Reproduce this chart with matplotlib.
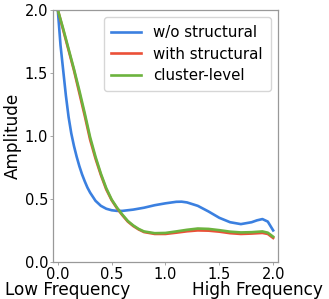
import matplotlib
matplotlib.use("Agg")
import matplotlib.pyplot as plt

# frequency axis samples
x_blue = [0.0, 0.025, 0.05, 0.075, 0.1, 0.125, 0.15, 0.175, 0.2, 0.225, 0.25, 0.275, 0.3, 0.35, 0.4, 0.45,
          0.5, 0.55, 0.6, 0.7, 0.8, 0.9, 1.0, 1.1, 1.15, 1.2, 1.3, 1.4, 1.5, 1.6,
          1.7, 1.8, 1.85, 1.9, 1.95, 2.0]
wo_structural = [2.0, 1.72, 1.52, 1.32, 1.15, 1.02, 0.92, 0.835, 0.76, 0.695, 0.64, 0.59, 0.55, 0.485, 0.445, 0.422,
                 0.41, 0.405, 0.405, 0.415, 0.43, 0.45, 0.465, 0.477, 0.478, 0.472, 0.445, 0.4, 0.35, 0.315,
                 0.3, 0.315, 0.33, 0.34, 0.32, 0.25]

x_rg = [0.0, 0.05, 0.1, 0.15, 0.2, 0.25, 0.3, 0.35, 0.4, 0.45, 0.5, 0.55, 0.6, 0.65,
        0.7, 0.75, 0.8, 0.9, 1.0, 1.1, 1.2, 1.3, 1.4, 1.5, 1.6, 1.7, 1.8, 1.9, 1.95, 2.0]
with_structural = [2.0, 1.84, 1.68, 1.52, 1.34, 1.16, 0.97, 0.82, 0.69, 0.575, 0.49, 0.425, 0.37, 0.32,
                   0.285, 0.258, 0.237, 0.222, 0.222, 0.232, 0.243, 0.25, 0.248, 0.24, 0.228, 0.222, 0.225, 0.23, 0.222, 0.19]
cluster_level = [2.0, 1.85, 1.69, 1.53, 1.36, 1.18, 0.99, 0.835, 0.70, 0.585, 0.495, 0.43, 0.375, 0.325,
                 0.29, 0.262, 0.242, 0.228, 0.23, 0.242, 0.255, 0.265, 0.262, 0.252, 0.24, 0.234, 0.236, 0.242, 0.232, 0.2]

fig = plt.figure(figsize=(3.29, 2.99), dpi=100)
ax = fig.add_axes([0.161, 0.124, 0.684, 0.843])

ax.plot(x_blue, wo_structural, c="#3b80e0", lw=1.9, label="w/o structural")
ax.plot(x_rg, with_structural, c="#eb5038", lw=1.9, label="with structural")
ax.plot(x_rg, cluster_level, c="#6cb33e", lw=1.9, label="cluster-level")

ax.set_xlim(-0.045, 2.045)
ax.set_ylim(0, 2.0)
ax.set_xticks([0.0, 0.5, 1.0, 1.5, 2.0])
ax.set_yticks([0.0, 0.5, 1.0, 1.5, 2.0])
ax.tick_params(labelsize=10.5, length=2.5, width=0.6, color="#999999", pad=1.0)
for s in ax.spines.values():
    s.set_color("#999999")
    s.set_linewidth(0.9)

ax.set_ylabel("Amplitude", fontsize=12.2, labelpad=2)
ax.legend(loc="upper right", fontsize=10.8, handlelength=2.0, borderpad=0.5,
          labelspacing=0.45, handletextpad=0.8, borderaxespad=0.5)

fig.text(0.015, 0.03, "Low Frequency", fontsize=12.2, va="center", ha="left")
fig.text(0.982, 0.03, "High Frequency", fontsize=12.2, va="center", ha="right")

fig.savefig("out.png", dpi=100)
